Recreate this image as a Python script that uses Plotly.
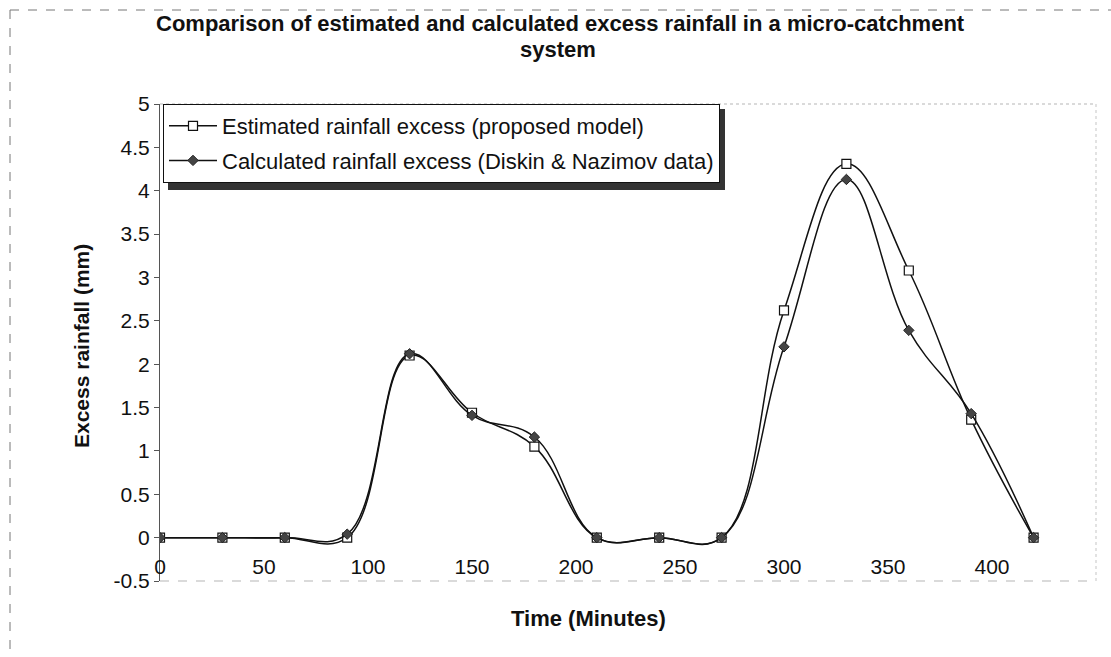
import plotly.graph_objects as go

time_min = [0, 30, 60, 90, 120, 150, 180, 210, 240, 270, 300, 330, 360, 390, 420]
estimated = [0, 0, 0, 0, 2.10, 1.44, 1.05, 0, 0, 0, 2.62, 4.31, 3.08, 1.36, 0]
calculated = [0, 0, 0, 0.04, 2.12, 1.41, 1.16, 0, 0, 0, 2.20, 4.13, 2.39, 1.43, 0]

x_ticks = [0, 50, 100, 150, 200, 250, 300, 350, 400, 450]
x_ticklabels = ["0", "50", "100", "150", "200", "250", "300", "350", "400", "450"]
y_ticks = [-0.5, 0, 0.5, 1, 1.5, 2, 2.5, 3, 3.5, 4, 4.5, 5]
y_ticklabels = ["-0.5", "0", "0.5", "1", "1.5", "2", "2.5", "3", "3.5", "4", "4.5", "5"]

name_est = "Estimated rainfall excess (proposed model)"
name_calc = "Calculated rainfall excess (Diskin & Nazimov data)"
title_line1 = "Comparison of estimated and calculated excess rainfall in a micro-catchment"
title_line2 = "system"
x_title = "Time (Minutes)"
y_title = "Excess rainfall (mm)"

W, H = 1111, 657
L, R, T, B = 160, 15, 104, 76
PW, PH = W - L - R, H - T - B

def px_x(p):
    return (p - L) / PW

def px_y(p):
    return (H - B - p) / PH

FONT = "Liberation Sans, Arial, sans-serif"

fig = go.Figure()
fig.add_trace(go.Scatter(
    x=time_min, y=estimated, name=name_est, mode="lines+markers",
    line=dict(color="#111111", width=1.5, shape="spline", smoothing=1.15),
    marker=dict(symbol="square", size=9, color="white", line=dict(color="#111111", width=1.2)),
    legendgroup="a",
))
fig.add_trace(go.Scatter(
    x=time_min, y=calculated, name=name_calc, mode="lines+markers",
    line=dict(color="#111111", width=1.5, shape="spline", smoothing=1.15),
    marker=dict(symbol="diamond", size=8, color="#444444", line=dict(color="#222222", width=1)),
    legendgroup="b",
))

shapes = [
    # outer chart frame (top and left)
    dict(type="line", xref="paper", yref="paper", x0=px_x(10), x1=px_x(W + 5), y0=px_y(10), y1=px_y(10),
         line=dict(color="#777777", width=1, dash="dash")),
    dict(type="line", xref="paper", yref="paper", x0=px_x(10), x1=px_x(10), y0=px_y(10), y1=px_y(H + 5),
         line=dict(color="#777777", width=1, dash="dash")),
    # faint plot-area border
    dict(type="line", xref="paper", yref="paper", x0=0, x1=1, y0=1, y1=1,
         line=dict(color="#b5b5b5", width=1, dash="dot"), layer="below"),
    dict(type="line", xref="paper", yref="paper", x0=1, x1=1, y0=0, y1=1,
         line=dict(color="#c5c5c5", width=1, dash="dot"), layer="below"),
    dict(type="line", xref="paper", yref="paper", x0=0, x1=1, y0=0, y1=0,
         line=dict(color="#b5b5b5", width=1, dash="dash"), layer="below"),
    # legend shadow
    dict(type="rect", xref="paper", yref="paper", x0=px_x(168), x1=px_x(725), y0=px_y(190), y1=px_y(109),
         fillcolor="#333333", line=dict(width=0), layer="above"),
]

fig.update_layout(
    width=W, height=H,
    margin=dict(l=L, r=R, t=T, b=B),
    paper_bgcolor="white", plot_bgcolor="white",
    font=dict(family=FONT, size=20, color="#111111"),
    showlegend=True,
    legend=dict(x=px_x(163), y=1, xanchor="left", yanchor="top",
                bgcolor="white", bordercolor="#111111", borderwidth=1,
                font=dict(family=FONT, size=22, color="#111111"),
                tracegroupgap=3, itemwidth=48),
    xaxis=dict(range=[0, 450], tickvals=x_ticks, ticktext=x_ticklabels,
               showgrid=False, zeroline=False, showline=False, ticks="",
               anchor="free", position=0.5 / 5.5, ticklabelstandoff=14,
               tickfont=dict(family=FONT, size=21, color="#111111")),
    yaxis=dict(range=[-0.5, 5], tickvals=y_ticks, ticktext=y_ticklabels,
               showgrid=False, zeroline=False, showline=True, linecolor="#555555", linewidth=1,
               ticks="outside", ticklen=5, tickcolor="#555555",
               tickfont=dict(family=FONT, size=21, color="#111111")),
    shapes=shapes,
    annotations=[
        dict(text=title_line1, xref="paper", yref="paper", x=px_x(W / 2 + 5), y=px_y(24),
             xanchor="center", yanchor="middle", showarrow=False,
             font=dict(family=FONT, size=22, color="#111111", weight="bold")),
        dict(text=title_line2, xref="paper", yref="paper", x=px_x(W / 2 + 2), y=px_y(49),
             xanchor="center", yanchor="middle", showarrow=False,
             font=dict(family=FONT, size=22, color="#111111", weight="bold")),
        dict(text=x_title, xref="paper", yref="paper", x=px_x(588), y=px_y(618),
             xanchor="center", yanchor="middle", showarrow=False,
             font=dict(family=FONT, size=22, color="#111111", weight="bold")),
        dict(text=y_title, xref="paper", yref="paper", x=px_x(81), y=px_y(346),
             xanchor="center", yanchor="middle", showarrow=False, textangle=-90,
             font=dict(family=FONT, size=21, color="#111111", weight="bold")),
    ],
)

fig.write_html("out.html")
